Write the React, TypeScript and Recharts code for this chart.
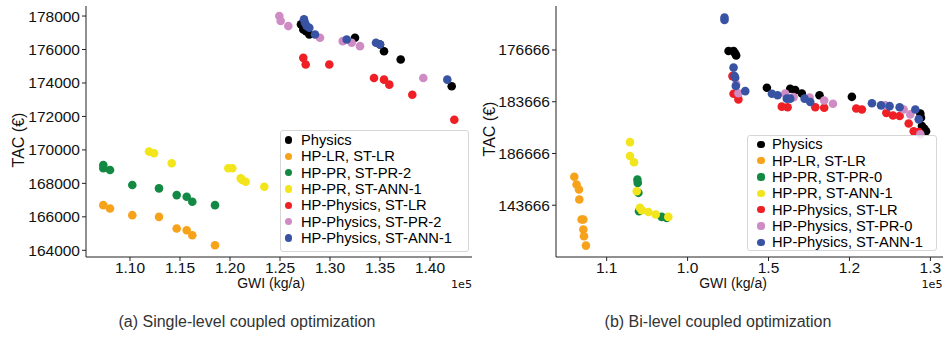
import { ScatterChart, Scatter, XAxis, YAxis } from "recharts";

// GWI in kg/a, TAC in €
const leftPhysics = [[127100, 177500], [127330, 177200], [127600, 177100], [127930, 176900], [132500, 176700], [135000, 176300], [135400, 175900], [137070, 175400], [142170, 173800]];
const leftLrLr = [[107330, 166700], [108000, 166500], [110230, 166100], [112900, 166000], [114670, 165300], [115670, 165200], [116230, 164900], [118500, 164300]];
const leftPrPr2 = [[107330, 169100], [107330, 168900], [108000, 168800], [110230, 167900], [112900, 167700], [114670, 167300], [115670, 167200], [116230, 166900], [118500, 166700]];
const leftPrAnn1 = [[111900, 169900], [112400, 169800], [114170, 169200], [119830, 168900], [120230, 168900], [121070, 168300], [121230, 168200], [121570, 168100], [123430, 167800]];
const leftPhLr = [[127330, 175500], [127570, 175100], [129930, 175100], [134400, 174300], [135400, 174200], [135930, 173900], [138230, 173300], [142430, 171800]];
const leftPhPr2 = [[124930, 178000], [125070, 177700], [125830, 177400], [129000, 176700], [131270, 176500], [132170, 176400], [133000, 176200], [139330, 174300]];
const leftPhAnn1 = [[127400, 177800], [127500, 177600], [127670, 177400], [127930, 177300], [128500, 176900], [131670, 176600], [134600, 176400], [135000, 176300], [141730, 174200]];

const rightPhysics = [[117530, 175960], [117840, 175960], [117940, 175860], [118000, 175790], [119900, 174540], [121340, 174500], [121650, 174450], [122060, 174320], [123150, 174250], [125150, 174190], [129380, 173540], [129420, 173380], [129480, 173060], [129630, 172950], [129730, 172860]];
const rightLrLr = [[108000, 171100], [108140, 170800], [108290, 170610], [108310, 170220], [108450, 169450], [108560, 169450], [108560, 169060], [108600, 168800], [108720, 168440]];
const rightPrPr0 = [[111900, 170990], [111920, 170860], [111960, 170480], [112000, 169770], [113400, 169550], [113710, 169510]];
const rightPrAnn1 = [[111440, 172440], [111440, 171900], [111690, 171660], [111860, 170540], [112060, 169900], [112160, 169810], [112580, 169740], [113030, 169640], [113810, 169550]];
const rightPhLr = [[117770, 174990], [117840, 174310], [118140, 174090], [120820, 173810], [121180, 173790], [122890, 173790], [123440, 173770], [125420, 173740], [125770, 173700], [127280, 173570], [127690, 173470], [128100, 173450], [128660, 173160], [128970, 172860], [129280, 172830]];
const rightPhPr0 = [[118000, 174670], [118140, 174330], [121030, 174320], [121550, 174180], [122540, 174160], [123440, 174050], [123980, 173920], [127220, 173860], [128350, 173700], [128760, 173510], [129380, 172740]];
const rightPhAnn1 = [[117280, 177250], [117280, 177160], [117840, 175320], [117900, 174990], [117940, 174930], [117980, 174610], [118560, 174410], [120210, 174310], [120560, 174250], [121130, 174120], [121340, 174120], [122230, 174120], [122580, 173990], [126390, 173940], [126950, 173860], [127480, 173830], [128100, 173790], [129070, 173700], [129280, 173320]];

const leftNames = ["Physics", "HP-LR, ST-LR", "HP-PR, ST-PR-2", "HP-PR, ST-ANN-1", "HP-Physics, ST-LR", "HP-Physics, ST-PR-2", "HP-Physics, ST-ANN-1"];
const rightNames = ["Physics", "HP-LR, ST-LR", "HP-PR, ST-PR-0", "HP-PR, ST-ANN-1", "HP-Physics, ST-LR", "HP-Physics, ST-PR-0", "HP-Physics, ST-ANN-1"];
const colors = ["#000000", "#f7a21b", "#138a43", "#f2e51c", "#ee2025", "#cf8bc3", "#3853a4"];

const leftXTicks = [110000, 115000, 120000, 125000, 130000, 135000, 140000];
const leftYTicks = [164000, 166000, 168000, 170000, 172000, 174000, 176000, 178000];
const rightXTicks = [110000, 115000, 120000, 125000, 130000];
const rightXLabels = ["1.1", "1.0", "1.5", "1.2", "1.3"];
const rightYTicks = [176000, 174000, 172000, 170000];
const rightYLabels = ["176666", "183666", "186666", "143666"];

const FONT = "'Liberation Sans', Arial, sans-serif";
const tickStyle = { fontSize: 15.5, fill: "#111", fontFamily: FONT };

const toPts = (arr: number[][]) => arr.map(([gwi, tac]) => ({ gwi, tac }));

const dot = (color: string) => (props: any) => (
  <circle cx={props.cx} cy={props.cy} r={4.3} fill={color} />
);

function Panel({ series, xDomain, yDomain, xTicks, yTicks, xFmt, yFmt, width, rightMargin }: any) {
  return (
    <ScatterChart width={width} height={290} margin={{ top: 6, right: rightMargin, bottom: 0, left: 0 }}>
      <XAxis type="number" dataKey="gwi" domain={xDomain} ticks={xTicks} tickFormatter={xFmt}
        allowDataOverflow height={33} tickSize={4} tickMargin={1} tick={tickStyle}
        stroke="#222" />
      <YAxis type="number" dataKey="tac" domain={yDomain} ticks={yTicks} tickFormatter={yFmt}
        allowDataOverflow width={86} tickSize={4} tickMargin={2} tick={tickStyle}
        stroke="#222" />
      <XAxis xAxisId="top" orientation="top" type="number" domain={xDomain} height={0}
        tick={false} tickLine={false} stroke="#222" />
      <YAxis yAxisId="right" orientation="right" type="number" domain={yDomain} width={0}
        tick={false} tickLine={false} stroke="#222" />
      {series.map((s: number[][], i: number) => (
        <Scatter key={i} data={toPts(s)} fill={colors[i]} shape={dot(colors[i])} isAnimationActive={false} />
      ))}
    </ScatterChart>
  );
}

function LegendBox({ names, left, top, width, height, dotX, textX, rowTop }: any) {
  return (
    <div style={{
      position: "absolute", left, top, width, height, boxSizing: "border-box",
      border: "1px solid #d6d6d6", borderRadius: 3, background: "rgba(255,255,255,0.8)",
    }}>
      {names.map((n: string, i: number) => (
        <div key={n} style={{ position: "absolute", left: 0, top: rowTop + i * 16.35 - 8, height: 16, width: "100%" }}>
          <span style={{
            position: "absolute", left: dotX - 3.6, top: 4.4, width: 7.2, height: 7.2,
            borderRadius: "50%", background: colors[i],
          }} />
          <span style={{
            position: "absolute", left: textX, top: 0, lineHeight: "16px", fontSize: 14.7,
            whiteSpace: "nowrap", color: "#000", fontFamily: FONT,
          }}>{n}</span>
        </div>
      ))}
    </div>
  );
}

const abs = (extra: any) => ({ position: "absolute" as const, whiteSpace: "nowrap" as const, fontFamily: FONT, color: "#111", ...extra });

export default function App() {
  return (
    <div style={{ position: "relative", width: 947, height: 339, background: "#fff", fontFamily: FONT, overflow: "hidden" }}>
      <style>{"body{margin:0}"}</style>
      <div style={{ position: "absolute", left: 0, top: 0 }}>
        <Panel
          series={[leftPhysics, leftLrLr, leftPrPr2, leftPrAnn1, leftPhLr, leftPhPr2, leftPhAnn1]}
          xDomain={[105600, 144200]} yDomain={[163600, 178600]}
          xTicks={leftXTicks} yTicks={leftYTicks}
          xFmt={(v: number) => (v / 1e5).toFixed(2)} yFmt={(v: number) => String(v)}
          width={475} rightMargin={3}
        />
      </div>
      <div style={{ position: "absolute", left: 470, top: 0 }}>
        <Panel
          series={[rightPhysics, rightLrLr, rightPrPr0, rightPrAnn1, rightPhLr, rightPhPr0, rightPhAnn1]}
          xDomain={[106870, 130780]} yDomain={[168000, 177700]}
          xTicks={rightXTicks} yTicks={rightYTicks}
          xFmt={(v: number) => rightXLabels[rightXTicks.indexOf(v)]}
          yFmt={(v: number) => rightYLabels[rightYTicks.indexOf(v)]}
          width={477} rightMargin={4}
        />
      </div>

      <LegendBox names={leftNames} left={280} top={130} width={189} height={122} dotX={7.7} textX={20} rowTop={9} />
      <LegendBox names={rightNames} left={746.7} top={135} width={190} height={116} dotX={13.3} textX={24.3} rowTop={8.3} />

      <div style={abs({ left: 19, top: 140, fontSize: 16, transform: "translate(-50%,-50%) rotate(-90deg)" })}>TAC (€)</div>
      <div style={abs({ left: 490, top: 128.5, fontSize: 16, transform: "translate(-50%,-50%) rotate(-90deg)" })}>TAC (€)</div>
      <div style={abs({ left: 271, top: 282.5, fontSize: 14, transform: "translate(-50%,-50%)" })}>GWI (kg/a)</div>
      <div style={abs({ left: 733, top: 282.5, fontSize: 14, transform: "translate(-50%,-50%)" })}>GWI (kg/a)</div>
      <div style={abs({ right: 947 - 472, top: 284, fontSize: 11.2, fontFamily: "'DejaVu Sans', sans-serif", transform: "translateY(-50%)" })}>1e5</div>
      <div style={abs({ right: 4.5, top: 284, fontSize: 11.2, fontFamily: "'DejaVu Sans', sans-serif", transform: "translateY(-50%)" })}>1e5</div>

      <div style={abs({ left: 247, top: 322, fontSize: 16, color: "#333", transform: "translate(-50%,-50%)" })}>(a) Single-level coupled optimization</div>
      <div style={abs({ left: 718, top: 322, fontSize: 16, color: "#333", transform: "translate(-50%,-50%)" })}>(b) Bi-level coupled optimization</div>
    </div>
  );
}
